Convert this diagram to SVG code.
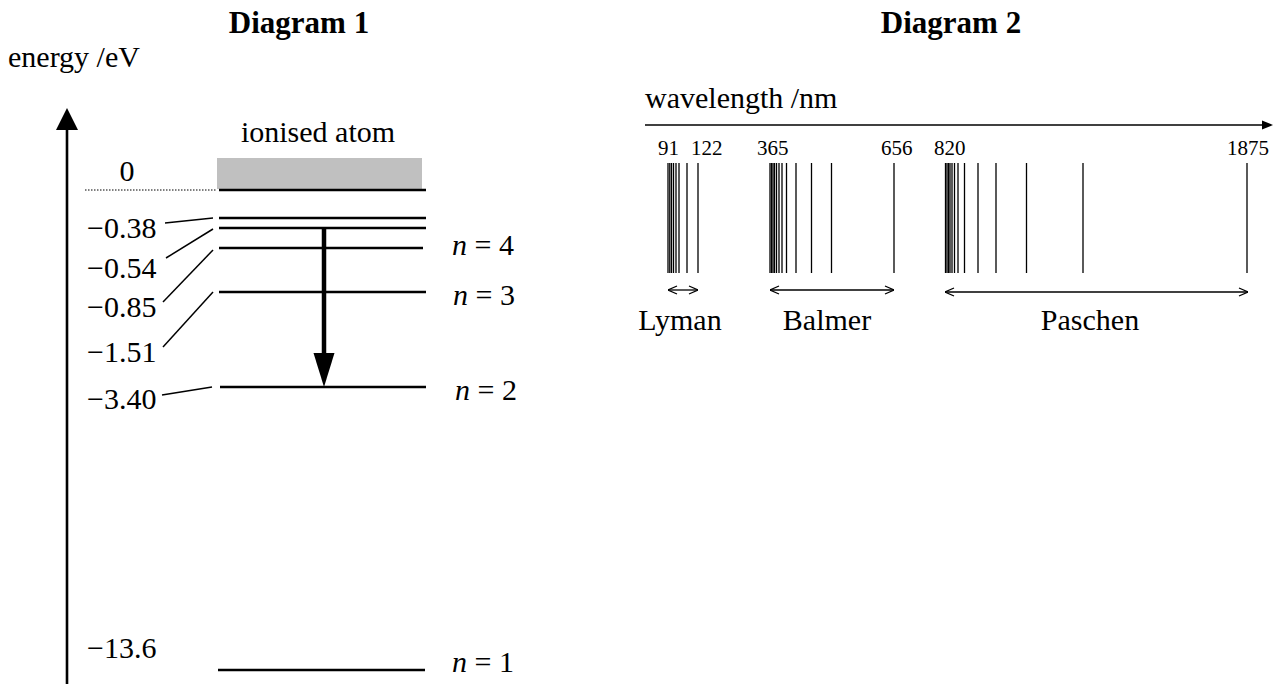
<svg xmlns="http://www.w3.org/2000/svg" width="1278" height="684" viewBox="0 0 1278 684">
<style>
text{font-family:"Liberation Serif","Times New Roman",serif;fill:#000}
.t{font-size:30px}
.title{font-size:31px;font-weight:bold}
.num{font-size:21px}
.lvl{stroke:#000;stroke-width:2.6}
.lead{stroke:#000;stroke-width:1.5}
.sp{stroke:#000;stroke-width:1.3}
.dbl{stroke:#000;stroke-width:1.3;marker-start:url(#open);marker-end:url(#open)}
</style>
<defs>
<marker id="open" viewBox="0 0 10 10" refX="10" refY="5" markerWidth="10" markerHeight="10" orient="auto-start-reverse" markerUnits="userSpaceOnUse"><path d="M1,1 L10,5 L1,9" fill="none" stroke="#000" stroke-width="1.3"/></marker>
</defs>
<rect width="1278" height="684" fill="#fff"/>

<g id="diagram1">
  <text id="title1" class="title" x="299" y="33" text-anchor="middle">Diagram 1</text>
  <text id="axis-label" class="t" x="8" y="67">energy /eV</text>
  <g id="energy-axis">
    <line x1="67" y1="684" x2="67" y2="128" stroke="#000" stroke-width="2.6"/>
    <polygon points="67,108 56,130 78,130" fill="#000"/>
  </g>
  <g id="ionised">
    <text class="t" x="318" y="142" text-anchor="middle">ionised atom</text>
    <rect x="217" y="158" width="205" height="31" fill="#c0c0c0"/>
  </g>
  <g id="levels">
    <line x1="85" y1="190" x2="217" y2="190" stroke="#000" stroke-width="1" stroke-dasharray="1.5 1.5"/>
    <line class="lvl" x1="219" y1="190" x2="426" y2="190"/>
    <line class="lvl" x1="219" y1="218" x2="426" y2="218"/>
    <line class="lvl" x1="219" y1="228" x2="426" y2="228"/>
    <line class="lvl" x1="219" y1="248" x2="423" y2="248"/>
    <line class="lvl" x1="219" y1="292" x2="426" y2="292"/>
    <line class="lvl" x1="220" y1="387" x2="426" y2="387"/>
    <line class="lvl" x1="218" y1="670" x2="425" y2="670"/>
  </g>
  <g id="energy-values">
    <text class="t" x="127" y="181" text-anchor="middle">0</text>
    <text class="t" x="87" y="238">−0.38</text>
    <text class="t" x="87" y="278">−0.54</text>
    <text class="t" x="87" y="317">−0.85</text>
    <text class="t" x="87" y="362">−1.51</text>
    <text class="t" x="87" y="409">−3.40</text>
    <text class="t" x="87" y="658">−13.6</text>
  </g>
  <g id="leaders">
    <line class="lead" x1="165" y1="223" x2="213" y2="218"/>
    <line class="lead" x1="166" y1="258" x2="213" y2="229"/>
    <line class="lead" x1="163" y1="302" x2="213" y2="250"/>
    <line class="lead" x1="163" y1="347" x2="213" y2="292"/>
    <line class="lead" x1="162" y1="395" x2="212" y2="387"/>
  </g>
  <g id="n-labels">
    <text class="t" x="452" y="255"><tspan font-style="italic">n</tspan> = 4</text>
    <text class="t" x="453" y="305"><tspan font-style="italic">n</tspan> = 3</text>
    <text class="t" x="455" y="400"><tspan font-style="italic">n</tspan> = 2</text>
    <text class="t" x="452" y="672"><tspan font-style="italic">n</tspan> = 1</text>
  </g>
  <g id="transition">
    <line x1="324" y1="228" x2="324" y2="356" stroke="#000" stroke-width="4.5"/>
    <polygon points="313.5,353 334.5,353 324,387" fill="#000"/>
  </g>
</g>

<g id="diagram2">
  <text id="title2" class="title" x="951" y="33" text-anchor="middle">Diagram 2</text>
  <text id="wl-label" class="t" x="645" y="108">wavelength /nm</text>
  <g id="wl-axis">
    <line x1="645" y1="125" x2="1264" y2="125" stroke="#000" stroke-width="1.4"/>
    <polygon points="1273,125 1262,120.5 1262,129.5" fill="#000"/>
  </g>
  <g id="numbers">
    <text class="num" x="658" y="155">91</text>
    <text class="num" x="691" y="155">122</text>
    <text class="num" x="757" y="155">365</text>
    <text class="num" x="881" y="155">656</text>
    <text class="num" x="934" y="155">820</text>
    <text class="num" x="1227" y="155">1875</text>
  </g>
  <g id="lyman-lines">
    <line class="sp" x1="668" y1="163" x2="668" y2="273"/>
    <line class="sp" x1="669.8" y1="163" x2="669.8" y2="273"/>
    <line class="sp" x1="671.5" y1="163" x2="671.5" y2="273"/>
    <line class="sp" x1="673.5" y1="163" x2="673.5" y2="273"/>
    <line class="sp" x1="676" y1="163" x2="676" y2="273"/>
    <line class="sp" x1="679" y1="163" x2="679" y2="273"/>
    <line class="sp" x1="687" y1="163" x2="687" y2="273"/>
    <line class="sp" x1="698" y1="163" x2="698" y2="273"/>
  </g>
  <g id="balmer-lines">
    <line class="sp" x1="770" y1="163" x2="770" y2="273"/>
    <line class="sp" x1="771.5" y1="163" x2="771.5" y2="273"/>
    <line class="sp" x1="773" y1="163" x2="773" y2="273"/>
    <line class="sp" x1="774.5" y1="163" x2="774.5" y2="273"/>
    <line class="sp" x1="776.5" y1="163" x2="776.5" y2="273"/>
    <line class="sp" x1="779" y1="163" x2="779" y2="273"/>
    <line class="sp" x1="782" y1="163" x2="782" y2="273"/>
    <line class="sp" x1="786.5" y1="163" x2="786.5" y2="273"/>
    <line class="sp" x1="796" y1="163" x2="796" y2="273"/>
    <line class="sp" x1="811.5" y1="163" x2="811.5" y2="273"/>
    <line class="sp" x1="831.5" y1="163" x2="831.5" y2="273"/>
    <line class="sp" x1="894" y1="163" x2="894" y2="273"/>
  </g>
  <g id="paschen-lines">
    <line class="sp" x1="945.5" y1="163" x2="945.5" y2="273"/>
    <line class="sp" x1="947" y1="163" x2="947" y2="273"/>
    <line class="sp" x1="948.5" y1="163" x2="948.5" y2="273"/>
    <line class="sp" x1="950" y1="163" x2="950" y2="273"/>
    <line class="sp" x1="952" y1="163" x2="952" y2="273"/>
    <line class="sp" x1="954.5" y1="163" x2="954.5" y2="273"/>
    <line class="sp" x1="958" y1="163" x2="958" y2="273"/>
    <line class="sp" x1="964.5" y1="163" x2="964.5" y2="273"/>
    <line class="sp" x1="978" y1="163" x2="978" y2="273"/>
    <line class="sp" x1="996" y1="163" x2="996" y2="273"/>
    <line class="sp" x1="1026.5" y1="163" x2="1026.5" y2="273"/>
    <line class="sp" x1="1083" y1="163" x2="1083" y2="273"/>
    <line class="sp" x1="1247" y1="163" x2="1247" y2="273"/>
  </g>
  <g id="series-ranges">
    <line class="dbl" x1="668" y1="290" x2="698" y2="290"/>
    <line class="dbl" x1="770" y1="290" x2="894" y2="290"/>
    <line class="dbl" x1="945" y1="292" x2="1248" y2="292"/>
  </g>
  <g id="series-labels">
    <text class="t" x="680" y="330" text-anchor="middle">Lyman</text>
    <text class="t" x="827" y="330" text-anchor="middle">Balmer</text>
    <text class="t" x="1090" y="330" text-anchor="middle">Paschen</text>
  </g>
</g>
</svg>
